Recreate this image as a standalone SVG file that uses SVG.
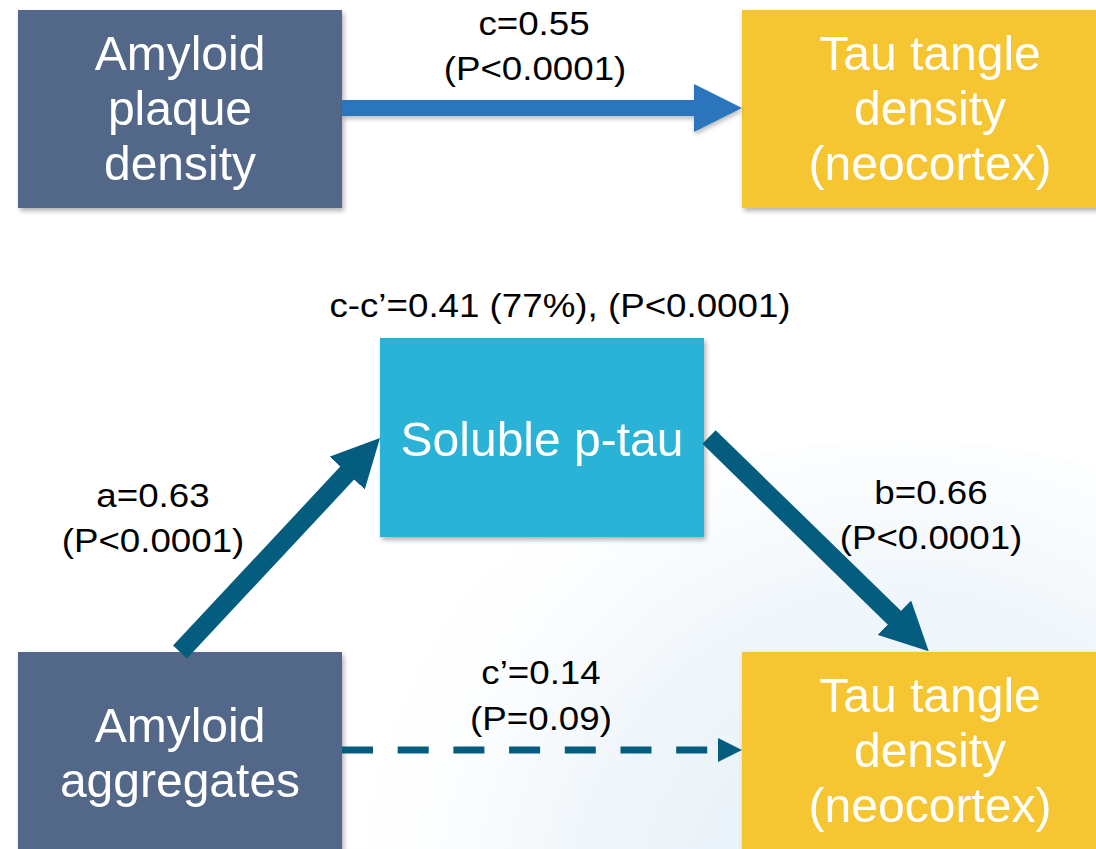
<svg xmlns="http://www.w3.org/2000/svg" width="1096" height="849" viewBox="0 0 1096 849">
<style>
.box-text{font-family:"Liberation Sans",Arial,sans-serif;font-size:48px;fill:#ffffff;text-anchor:middle}
.lbl{font-family:"Liberation Sans",Arial,sans-serif;font-size:34px;fill:#000000;text-anchor:middle}
.slate{fill:#536888}
.gold{fill:#f5c531}
.cyan{fill:#29b3d7}
</style>
<defs>
<filter id="sh" x="-10%" y="-10%" width="130%" height="130%">
<feDropShadow dx="2" dy="3" stdDeviation="2.5" flood-color="#000" flood-opacity="0.3"/>
</filter>
<filter id="lsh" filterUnits="userSpaceOnUse" x="300" y="70" width="480" height="80">
<feDropShadow dx="1" dy="3" stdDeviation="2" flood-color="#000" flood-opacity="0.25"/>
</filter>
<radialGradient id="bg" cx="900" cy="920" r="600" gradientUnits="userSpaceOnUse">
<stop offset="0" stop-color="#e2eef8"/>
<stop offset="0.55" stop-color="#f0f6fb"/>
<stop offset="1" stop-color="#ffffff" stop-opacity="0"/>
</radialGradient>
<marker id="hb" markerUnits="userSpaceOnUse" markerWidth="48" markerHeight="48" refX="2" refY="24" orient="auto">
<path d="M0,0 L48,24 L0,48 z" fill="#2b74bc"/>
</marker>
<marker id="hd" markerUnits="userSpaceOnUse" markerWidth="48" markerHeight="48" refX="2" refY="24" orient="auto">
<path d="M0,0 L48,24 L0,48 z" fill="#045c7e"/>
</marker>
<marker id="hs" markerUnits="userSpaceOnUse" markerWidth="24" markerHeight="24" refX="0" refY="12" orient="auto">
<path d="M0,0 L24,12 L0,24 z" fill="#045c7e"/>
</marker>
</defs>
<rect width="1096" height="849" fill="#ffffff"/>
<ellipse cx="900" cy="920" rx="600" ry="480" fill="url(#bg)"/>

<g id="n1" filter="url(#sh)"><rect class="slate" x="18" y="10" width="324" height="198"/>
<text class="box-text" x="180" y="70">Amyloid</text><text class="box-text" x="180" y="125">plaque</text><text class="box-text" x="180" y="180">density</text></g>
<g id="n2" filter="url(#sh)"><rect class="gold" x="742" y="10" width="376" height="198"/>
<text class="box-text" x="930" y="70">Tau tangle</text><text class="box-text" x="930" y="125">density</text><text class="box-text" x="930" y="180">(neocortex)</text></g>
<g id="n3" filter="url(#sh)"><rect class="cyan" x="380" y="338" width="324" height="199"/>
<text class="box-text" x="542" y="456">Soluble p-tau</text></g>
<g id="n4" filter="url(#sh)"><rect class="slate" x="18" y="652" width="324" height="210"/>
<text class="box-text" x="180" y="742">Amyloid</text><text class="box-text" x="180" y="797">aggregates</text></g>
<g id="n5" filter="url(#sh)"><rect class="gold" x="742" y="652" width="376" height="210"/>
<text class="box-text" x="930" y="712">Tau tangle</text><text class="box-text" x="930" y="767">density</text><text class="box-text" x="930" y="822">(neocortex)</text></g>

<g id="connectors">
<g filter="url(#lsh)"><line x1="342" y1="108" x2="696" y2="108" stroke="#2b74bc" stroke-width="16" marker-end="url(#hb)"/></g>
<line x1="180" y1="652" x2="348.6" y2="471.6" stroke="#045c7e" stroke-width="19" marker-end="url(#hd)"/>
<line x1="709" y1="437" x2="895.8" y2="619.1" stroke="#045c7e" stroke-width="19" marker-end="url(#hd)"/>
<line x1="342" y1="750" x2="718" y2="750" stroke="#045c7e" stroke-width="7" stroke-dasharray="31 24.7" marker-end="url(#hs)"/>
</g>

<g id="labels">
<g transform="translate(534,35) scale(1.08,1)"><text class="lbl">c=0.55</text></g>
<g transform="translate(535,80) scale(1.08,1)"><text class="lbl">(P&lt;0.0001)</text></g>
<g transform="translate(560,317) scale(1.08,1)"><text class="lbl">c-c’=0.41 (77%), (P&lt;0.0001)</text></g>
<g transform="translate(153,507) scale(1.08,1)"><text class="lbl">a=0.63</text></g>
<g transform="translate(153,552) scale(1.08,1)"><text class="lbl">(P&lt;0.0001)</text></g>
<g transform="translate(931,504) scale(1.08,1)"><text class="lbl">b=0.66</text></g>
<g transform="translate(931,549) scale(1.08,1)"><text class="lbl">(P&lt;0.0001)</text></g>
<g transform="translate(541,684) scale(1.08,1)"><text class="lbl">c’=0.14</text></g>
<g transform="translate(541,730) scale(1.08,1)"><text class="lbl">(P=0.09)</text></g>
</g>
</svg>
